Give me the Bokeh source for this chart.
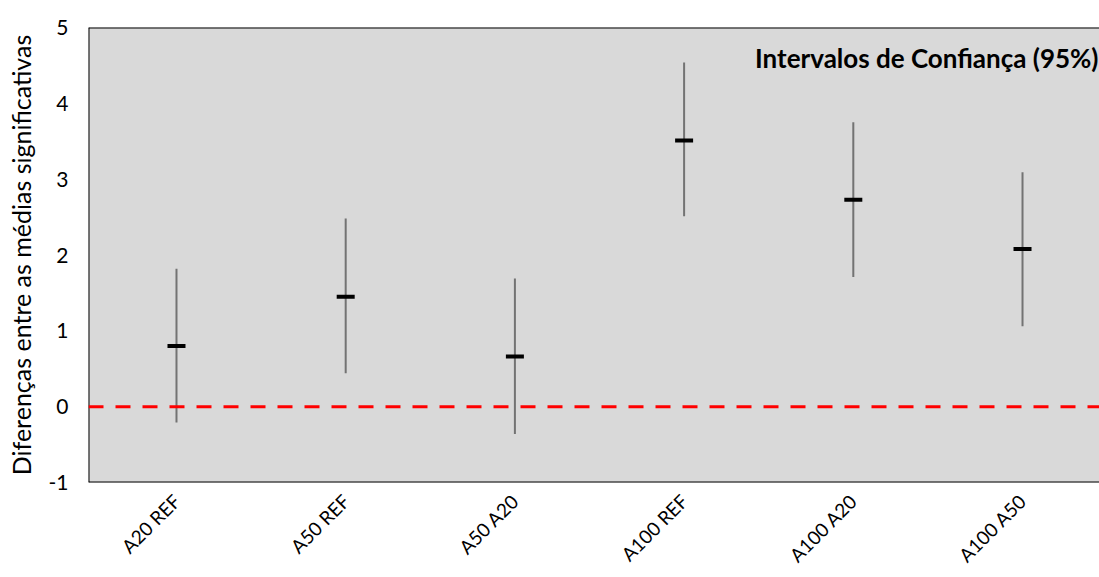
import math
from bokeh.plotting import figure
from bokeh.models import Range1d, Span, Label, FixedTicker
from bokeh.embed import file_html
from bokeh.resources import INLINE

categories = ["A20 REF", "A50 REF", "A50 A20", "A100 REF", "A100 A20", "A100 A50"]
means = [0.80, 1.45, 0.66, 3.51, 2.73, 2.08]
lower = [-0.21, 0.44, -0.36, 2.51, 1.71, 1.06]
upper = [1.82, 2.48, 1.69, 4.54, 3.75, 3.09]
y_ticks = [-1, 0, 1, 2, 3, 4, 5]

FONT = "Lato"

# category slots on a numeric axis (slot centre = index + 0.5); the frame is cut off at the right
xpos = [i + 0.5 for i in range(len(categories))]
X0, X1 = -0.02, 5.955

p = figure(width=1099, height=577, x_range=Range1d(X0, X1), y_range=Range1d(-1, 5),
           output_backend="svg", toolbar_location=None,
           min_border_left=88, min_border_right=0, min_border_top=27, min_border_bottom=95)
p.background_fill_color = "#d9d9d9"
p.border_fill_color = "white"
p.outline_line_color = None
p.grid.visible = False

for loc, dim in ((5, "width"), (-1, "width"), (X0, "height")):
    p.add_layout(Span(location=loc, dimension=dim, line_color="black", line_width=2))

p.segment(x0=xpos, y0=lower, x1=xpos, y1=upper, line_color="#737373", line_width=2)
p.rect(x=xpos, y=means, width=18, height=4, width_units="screen", height_units="screen",
       fill_color="black", line_color=None)

p.add_layout(Span(location=0, dimension="width", line_color="#ff0000", line_width=3, line_dash="15 12"))

p.add_layout(Label(x=X1, y=4.6, text="Intervalos de Confiança (95%)", text_align="right",
                   text_baseline="middle", text_font=FONT, text_font_style="bold",
                   text_font_size="26px", text_color="black", x_offset=-1))

p.xaxis.ticker = FixedTicker(ticks=xpos)
p.xaxis.major_label_overrides = {x: c for x, c in zip(xpos, categories)}
p.yaxis.ticker = FixedTicker(ticks=y_ticks)
p.yaxis.major_label_overrides = {t: str(t) for t in y_ticks}
p.yaxis.axis_label = "Diferenças entre as médias significativas"
p.yaxis.axis_label_text_font = FONT
p.yaxis.axis_label_text_font_style = "normal"
p.yaxis.axis_label_text_font_size = "25px"
p.yaxis.axis_label_text_color = "black"
p.yaxis.axis_label_standoff = 10
p.axis.major_label_text_font = FONT
p.axis.major_label_text_color = "black"
p.yaxis.major_label_text_font_size = "21px"
p.xaxis.major_label_text_font_size = "19px"
p.axis.axis_line_color = None
p.axis.major_tick_line_color = None
p.axis.minor_tick_line_color = None
p.yaxis.major_label_standoff = 14
p.xaxis.major_label_orientation = math.pi / 4
p.xaxis.major_label_standoff = 9

open("out.html", "w").write(file_html(p, INLINE))
